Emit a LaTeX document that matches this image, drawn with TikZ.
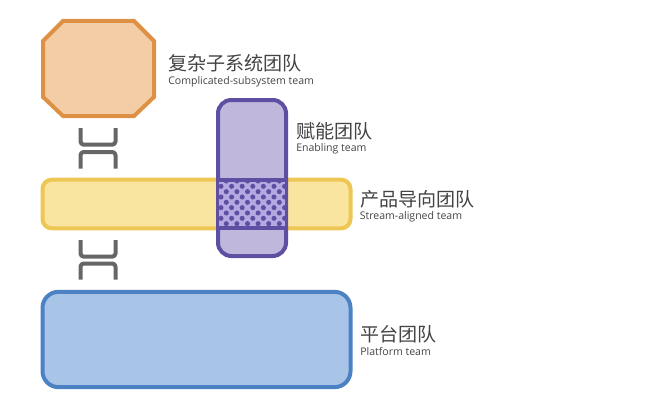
\documentclass[tikz,border=0pt]{standalone}
\usepackage{fontspec}
\setmainfont{Open Sans}
\newfontfamily\cjk{Noto Sans CJK SC}
\definecolor{orgF}{HTML}{F3CDA5}
\definecolor{orgD}{HTML}{DE9144}
\definecolor{yelF}{HTML}{FAE5A0}
\definecolor{yelD}{HTML}{EDC653}
\definecolor{purF}{HTML}{BFB8DC}
\definecolor{purM}{HTML}{B5A9E2}
\definecolor{purD}{HTML}{5F4FA3}
\definecolor{bluF}{HTML}{A8C5E8}
\definecolor{bluD}{HTML}{4C82C3}
\definecolor{gryD}{HTML}{666666}
\definecolor{txtC}{HTML}{444444}
\tikzset{
  x=0.75pt,y=-0.75pt,
  teambox/.style={rectangle,line width=3pt,inner sep=0pt,outer sep=0pt},
  cn/.style={anchor=base west,inner sep=0pt,font=\cjk\fontsize{14.3}{16}\selectfont,text=txtC},
  en/.style={anchor=base west,inner sep=0pt,font=\fontsize{7.9}{10}\selectfont,text=txtC},
  link/.style={draw=gryD,line width=3pt,line cap=butt,line join=round,rounded corners=2.4pt},
}
\begin{document}
\begin{tikzpicture}
\useasboundingbox (0,0) rectangle (660,410);
% platform
\node[teambox,fill=bluF,draw=bluD,rounded corners=12pt,minimum width=231pt,minimum height=71.5pt] (platform) at (196.5,339.5) {};
% stream
\node[teambox,fill=yelF,draw=yelD,rounded corners=7pt,minimum width=231pt,minimum height=36.5pt] (stream) at (196.5,204) {};
% enabling
\node[teambox,fill=purF,draw=purD,rounded corners=10pt,minimum width=51pt,minimum height=117pt] (enabling) at (252,178) {};
% overlap pattern
\fill[purM] (219,180) rectangle (285,228);
\begin{scope}
\clip (219,180) rectangle (285,228);
\foreach \r in {0,...,9}{
  \foreach \c in {0,...,7}{
    \pgfmathsetmacro{\dx}{221+\c*10.6+mod(\r,2)*5.3-5.3}
    \pgfmathsetmacro{\dy}{181+\r*5.33}
    \fill[purD] (\dx,\dy) circle[radius=1.9pt];
  }
}
\end{scope}
\draw[purD,line width=3pt] (218,180) -- (286,180);
\draw[purD,line width=3pt] (218,228) -- (286,228);
% complicated
\coordinate (o1) at (63,21);
\coordinate (o2) at (134,21);
\coordinate (o3) at (154,41);
\coordinate (o4) at (154,97);
\coordinate (o5) at (134,116);
\coordinate (o6) at (63,116);
\coordinate (o7) at (43,97);
\coordinate (o8) at (43,41);
\filldraw[fill=orgF,draw=orgD,line width=3pt,line join=miter]
  (o1) -- (o2) -- (o3) -- (o4) -- (o5) -- (o6) -- (o7) -- (o8) -- cycle;
% interaction marks
\draw[link] (80.5,128) -- (80.5,144.7) -- (115.5,144.7) -- (115.5,128);
\draw[link] (80.5,168.5) -- (80.5,152) -- (115.5,152) -- (115.5,168.5);
\draw[link] (80.5,240) -- (80.5,256.7) -- (115.5,256.7) -- (115.5,240);
\draw[link] (80.5,279.5) -- (80.5,263.5) -- (115.5,263.5) -- (115.5,279.5);
% labels
\node[cn] (l1) at (168,70) {复杂子系统团队};
\node[en] (l1e) at (168,84.5) {Complicated-subsystem team};
\node[cn] (l2) at (296,138) {赋能团队};
\node[en] (l2e) at (296,151.5) {Enabling team};
\node[cn] (l3) at (360,206) {产品导向团队};
\node[en] (l3e) at (359.5,219) {Stream-aligned team};
\node[cn] (l4) at (360,341) {平台团队};
\node[en] (l4e) at (360,355) {Platform team};
\end{tikzpicture}
\end{document}
